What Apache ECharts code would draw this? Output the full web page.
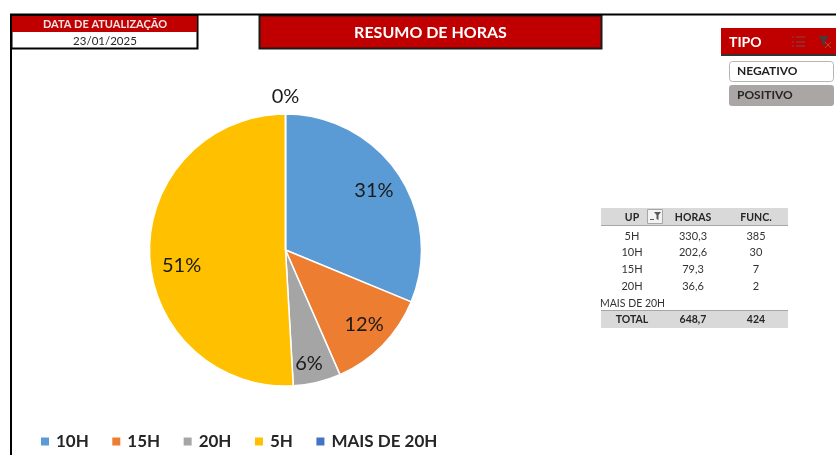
<!DOCTYPE html>
<html>
<head>
<meta charset="utf-8">
<title>Resumo de Horas</title>
<script src="https://cdn.jsdelivr.net/npm/echarts@6/dist/echarts.min.js"></script>
<style>
  html, body { margin: 0; padding: 0; background: #fff; }
  #chart { width: 836px; height: 455px; }
</style>
</head>
<body>
<div id="chart"></div>
<script>
// pie
var categories = ['10H', '15H', '20H', '5H', 'MAIS DE 20H'];
var hours = [202.6, 79.3, 36.6, 330.3, 0];
var colors = ['#5B9BD5', '#ED7D31', '#A5A5A5', '#FFC000', '#4472C4'];

// side table
var tableHeader = ['UP', 'HORAS', 'FUNC.'];
var tableUp = ['5H', '10H', '15H', '20H', 'MAIS DE 20H'];
var tableHoras = ['330,3', '202,6', '79,3', '36,6', ''];
var tableFunc = ['385', '30', '7', '2', ''];
var tableTotal = ['TOTAL', '648,7', '424'];

var FONT = 'Lato, "Open Sans", sans-serif';
var RED = '#C00000';
var CX = 285.5, CY = 250;

function txt(x, y, text, size, weight, fill, align) {
  return {
    type: 'text', x: x, y: y, z: 10,
    style: {
      text: text, fill: fill || '#262626', font: (weight || 'normal') + ' ' + size + 'px ' + FONT,
      textAlign: align || 'center', textVerticalAlign: 'middle'
    }
  };
}
function box(x, y, w, h, fill, stroke, lw, r) {
  return {
    type: 'rect', z: 5,
    shape: { x: x, y: y, width: w, height: h, r: r || 0 },
    style: { fill: fill, stroke: stroke || null, lineWidth: lw || 0 }
  };
}
function line(x1, y1, x2, y2, color, lw) {
  return {
    type: 'line', z: 6,
    shape: { x1: x1, y1: y1, x2: x2, y2: y2 },
    style: { stroke: color, lineWidth: lw }
  };
}

var g = [];
// moldura
g.push(line(10, 14.5, 836, 14.5, '#000', 2));
g.push(line(11, 14, 11, 455, '#000', 2));

// data
g.push(box(11.5, 15.5, 186, 33, '#fff', '#000', 2));
g.push(box(12, 16, 185, 16, RED));
g.push(txt(105, 24.5, 'DATA DE ATUALIZAÇÃO', 11, 'bold', '#F6E3E3'));
g.push(txt(105, 41.5, '23/01/2025', 11.5, 'normal', '#262626'));

// titulo
g.push(box(259.5, 15.5, 342, 33, RED, '#1a1a1a', 2));
g.push(txt(430.5, 32.5, 'RESUMO DE HORAS', 16, 'bold', '#fff'));

// slicer
g.push(box(721, 28, 115, 26, RED));
g.push(line(721, 55, 836, 55, '#333', 2));
g.push(txt(729, 42, 'TIPO', 14, 'bold', '#fff', 'left'));
[37, 42, 46].forEach(function (y) {
  g.push(line(796, y, 805, y, '#7a4a4a', 1));
  g.push(line(792, y, 794, y, '#7a4a4a', 1));
});
g.push({
  type: 'polygon', z: 6,
  shape: { points: [[818, 36], [829, 36], [825, 41], [825, 46], [822, 44], [822, 41]] },
  style: { fill: '#4a3a3a' }
});
g.push(line(825, 42, 831, 48, '#a8502a', 1));
g.push(line(831, 42, 825, 48, '#a8502a', 1));
g.push(box(729.5, 61.5, 104, 20, '#fff', '#b5b5b5', 1, 3));
g.push(txt(737, 71.5, 'NEGATIVO', 12, 'bold', '#1f1f1f', 'left'));
g.push(box(729, 85, 105, 21, '#AAA6A5', null, 0, 3));
g.push(txt(737, 95.5, 'POSITIVO', 12, 'bold', '#262626', 'left'));

// tabela
var colX = [632, 693, 756];
var rowY = [236.5, 252.5, 269.5, 286.5];
g.push(box(601, 208, 187, 17, '#D9D9D9'));
g.push(line(601, 225.5, 788, 225.5, '#A6A6A6', 1));
tableHeader.forEach(function (t, i) {
  g.push(txt(colX[i], 217.5, t, 10.5, 'bold', '#262626'));
});
g.push(box(647.5, 209.5, 15, 14, '#F2F2F2', '#A6A6A6', 1));
g.push({
  type: 'polygon', z: 6,
  shape: { points: [[654, 212], [661, 212], [658.5, 215], [658.5, 220], [656.5, 219], [656.5, 215]] },
  style: { fill: '#595959' }
});
g.push(line(650, 219.5, 654, 219.5, '#595959', 1));
rowY.forEach(function (y, i) {
  g.push(txt(colX[0], y, tableUp[i], 11, 'normal', '#333'));
  g.push(txt(colX[1], y, tableHoras[i], 11, 'normal', '#333'));
  g.push(txt(colX[2], y, tableFunc[i], 11, 'normal', '#333'));
});
// ultima linha cortada pela celula ao lado
g.push(txt(600, 303.5, tableUp[4], 10.5, 'normal', '#333', 'left'));
var cover = box(664, 296, 12, 14, '#fff');
cover.z = 11;
g.push(cover);
g.push(box(601, 311, 187, 17, '#D9D9D9'));
g.push(line(601, 310.5, 788, 310.5, '#A6A6A6', 1));
tableTotal.forEach(function (t, i) {
  g.push(txt(colX[i], 320, t, 10.5, 'bold', '#262626'));
});

var pieData = categories.map(function (c, i) {
  return { name: c, value: hours[i], itemStyle: { color: colors[i] } };
});
var labelData = categories.map(function (c, i) {
  var item = { name: c, value: hours[i] };
  if (hours[i] === 0) {
    item.label = { position: 'outside', color: '#1a1a1a' };
    item.labelLine = { show: false, length: 18, length2: 0 };
  }
  return item;
});

// ajuste fino dos rotulos, o original foi arrastado a mao no excel
var labelNudge = [[-3, 2], [0, -2], [-2, 7], [6, 12]];

var chart = echarts.init(document.getElementById('chart'));
chart.setOption({
  backgroundColor: '#fff',
  animation: false,
  legend: {
    left: 34,
    top: 428,
    icon: 'rect',
    itemWidth: 10,
    itemHeight: 10,
    itemGap: 21.5,
    data: categories,
    selectedMode: false,
    textStyle: { fontFamily: FONT, fontSize: 17, fontWeight: 'bold', color: '#262626', padding: [0, 0, 0, 1] }
  },
  series: [
    {
      type: 'pie',
      center: [CX, CY],
      radius: [0, 136],
      startAngle: 90,
      clockwise: true,
      data: pieData,
      label: { show: false },
      labelLine: { show: false },
      itemStyle: { borderColor: '#fff', borderWidth: 1.5 },
      silent: true
    },
    {
      // serie so dos rotulos, o anel empurra o texto para fora do meio do raio
      type: 'pie',
      center: [CX, CY],
      radius: [78, 136],
      startAngle: 90,
      clockwise: true,
      data: labelData,
      percentPrecision: 0,
      itemStyle: { color: 'transparent', borderWidth: 0 },
      label: {
        show: true,
        position: 'inside',
        formatter: '{d}%',
        fontFamily: FONT,
        fontSize: 20,
        color: '#1a1a1a'
      },
      labelLine: { show: false },
      labelLayout: function (params) {
        var n = labelNudge[params.dataIndex];
        if (n) {
          return { dx: n[0], dy: n[1] };
        }
        // 0% fica centrado em cima da pizza
        var r = params.labelRect;
        return { dx: CX - (r.x + r.width / 2), dy: 1 };
      },
      silent: true
    }
  ],
  graphic: { elements: g }
});
</script>
</body>
</html>
